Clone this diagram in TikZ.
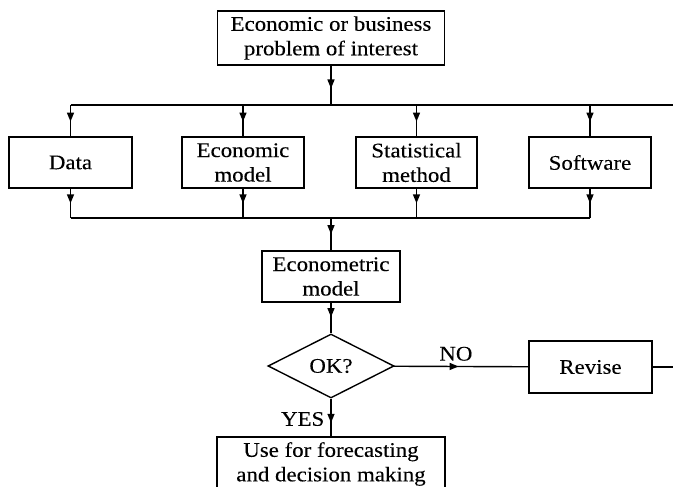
\documentclass[tikz,border=0pt]{standalone}
\usepackage{fontspec}
\setmainfont[FakeStretch=1.1,FakeBold=0.12]{Liberation Serif}
\usetikzlibrary{arrows.meta,decorations.markings,shapes.geometric}
\tikzset{
  txt/.style={font=\fontsize{20.8}{24.5}\selectfont},
  box/.style={draw, line width=1.4pt, align=center, inner sep=0pt, txt},
  conn/.style={line width=1.4pt},
  arr/.style={conn, postaction={decorate}, decoration={markings,
      mark=at position #1 with {\arrow{Triangle[length=9pt,width=7pt]}}}},
  arr/.default=0.55,
  lab/.style={txt, inner sep=2pt}
}
\begin{document}
\begin{tikzpicture}[x=1pt,y=-1pt]
\path[use as bounding box] (0,0) rectangle (673,487);
\clip (0,0) rectangle (673,487);
\fill[white] (0,0) rectangle (673,487);

\node[box, minimum width=227pt, minimum height=54pt] (prob) at (331,38) {Economic or business\\problem of interest};
\node[box, minimum width=123pt, minimum height=51pt] (data) at (70.5,162.5) {Data};
\node[box, minimum width=122pt, minimum height=51pt] (econ) at (243,162.5) {Economic\\model};
\node[box, minimum width=121pt, minimum height=51pt] (stat) at (416.5,162.5) {Statistical\\method};
\node[box, minimum width=122pt, minimum height=51pt] (soft) at (590,162.5) {Software};
\node[box, minimum width=138pt, minimum height=51pt] (emodel) at (331,276.5) {Econometric\\model};
\node[box, shape=diamond, minimum width=126pt, minimum height=64pt] (ok) at (331,366) {OK?};
\node[box, minimum width=123pt, minimum height=52pt] (revise) at (590.5,367) {Revise};
\node[box, minimum width=228pt, minimum height=54pt] (use) at (331,464) {Use for forecasting\\and decision making};

\coordinate (busT) at (331,105);
\coordinate (edgeT) at (674,105);
\coordinate (busB) at (331,218);
\coordinate (edgeR) at (674,367);

\draw[arr=0.58] (prob) -- (busT);
\draw[conn] (data |- busT) -- (edgeT);
\foreach \n in {data,econ,stat,soft}{
  \draw[arr=0.53] (busT -| \n) -- (\n);
  \draw[arr=0.5] (\n) -- (busB -| \n);
}
\draw[conn] (data |- busB) -- (soft |- busB);
\draw[arr=0.5] (busB) -- (emodel);
\draw[arr=0.47] (emodel) -- (ok);
\draw[arr=0.48] (ok) -- node[lab, above=3pt, pos=0.46] {NO} (revise);
\draw[conn] (revise) -- (edgeR);
\draw[arr=0.64] (ok) -- node[lab, left=4pt, pos=0.54] {YES} (use);
\end{tikzpicture}
\end{document}
